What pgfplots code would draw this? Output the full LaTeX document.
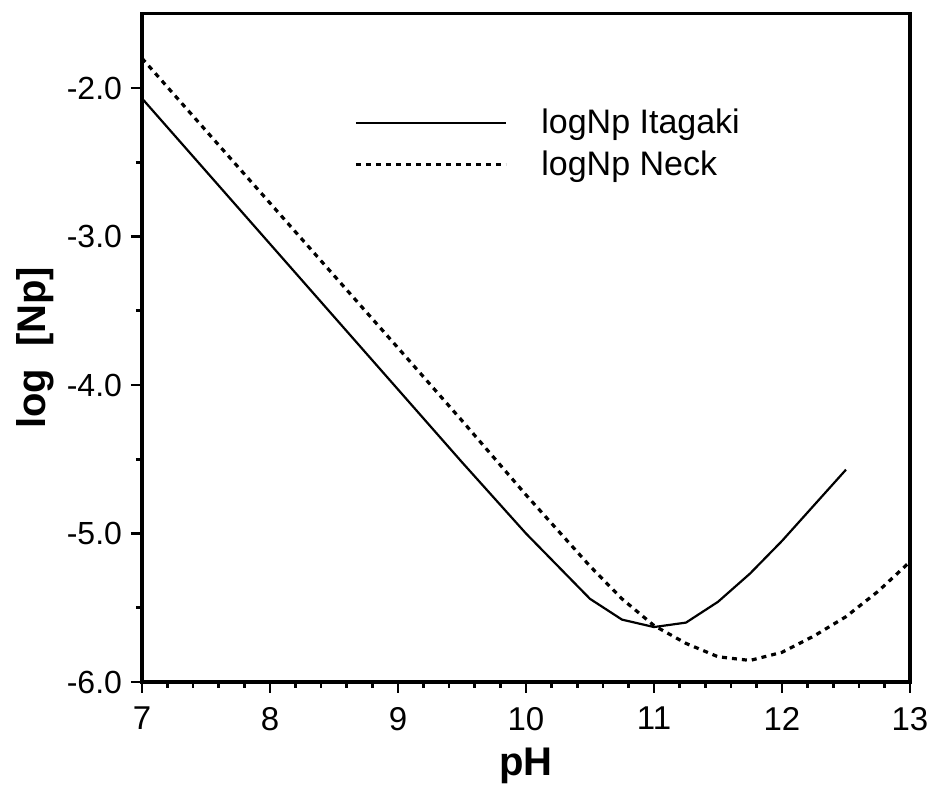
\documentclass[border=0pt]{standalone}
\usepackage{fontspec}
\setmainfont{Liberation Sans}
\usepackage{pgfplots}
\pgfplotsset{compat=1.18}
\begin{document}
\begin{tikzpicture}
\useasboundingbox (-71bp,-54bp) rectangle (399bp,341bp);
\begin{axis}[
  at={(0,0)}, anchor=south west,
  scale only axis, width=384bp, height=334.125bp,
  xmin=7, xmax=13, ymin=-6, ymax=-1.5,
  axis line style={line width=1.6bp},
  xtick={7,8,9,10,11,12,13}, xticklabels={7,8,9,10,11,12,13},
  ytick={-6,-5,-4,-3,-2}, yticklabels={-6.0,-5.0,-4.0,-3.0,-2.0},
  minor x tick num=4, minor y tick num=1,
  tick align=outside, xtick pos=left, ytick pos=left,
  major tick length=5.5bp, minor tick length=3bp,
  tick style={line width=1.3bp, black},
  xticklabel style={yshift=-3.5bp, font=\fontsize{16.5bp}{19bp}\selectfont},
  yticklabel style={xshift=-1bp, font=\fontsize{16bp}{19bp}\selectfont},
  xlabel={pH}, ylabel={log\ \ [Np]},
  every axis x label/.style={at={([yshift=-42bp]axis description cs:0.5,0)}, anchor=center,
    font=\bfseries\fontsize{20bp}{23bp}\selectfont},
  every axis y label/.style={at={([xshift=-53.5bp]axis description cs:0,0.5)}, rotate=90, anchor=center,
    font=\bfseries\fontsize{20bp}{23bp}\selectfont},
  legend style={at={(rel axis cs:0.268,0.870)}, anchor=north west, draw=none, fill=none,
    font=\fontsize{17bp}{20bp}\selectfont, row sep=3bp,
    /tikz/every odd column/.append style={column sep=15bp}},
  legend image code/.code={\draw[#1] (0bp,0bp) -- (75bp,0bp);},
  legend cell align=left,
]
\addplot[black, line width=1.1bp] coordinates {
(7.0,-2.07) (7.5,-2.56) (8.0,-3.05) (8.5,-3.54) (9.0,-4.03) (9.5,-4.52) (10.0,-5.00)
(10.5,-5.44) (10.75,-5.58) (11.0,-5.63) (11.25,-5.60) (11.5,-5.46) (11.75,-5.27)
(12.0,-5.05) (12.25,-4.81) (12.5,-4.57)};
\addlegendentry{logNp Itagaki}
\addplot[black, line width=1.6bp, dash pattern=on 2.5bp off 2.5bp] coordinates {
(7.0,-1.80) (8.0,-2.775) (9.0,-3.75) (9.5,-4.24) (10.0,-4.74) (10.5,-5.22) (10.75,-5.44)
(11.0,-5.62) (11.25,-5.74) (11.5,-5.83) (11.75,-5.855) (12.0,-5.80) (12.25,-5.69)
(12.5,-5.56) (12.75,-5.39) (13.0,-5.19)};
\addlegendentry{logNp Neck}
\end{axis}
\end{tikzpicture}
\end{document}
